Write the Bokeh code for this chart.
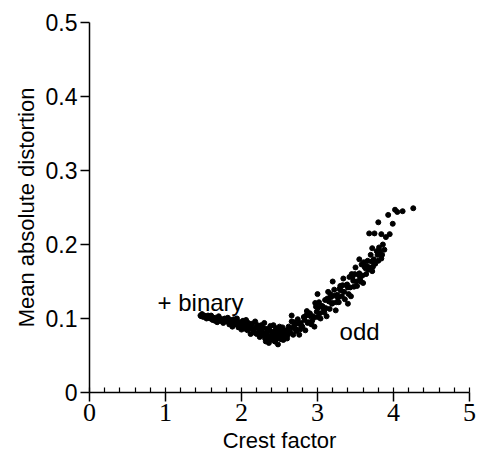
from bokeh.plotting import figure
from bokeh.models import Range1d, FixedTicker, SingleIntervalTicker, Label
from bokeh.embed import file_html
from bokeh.resources import INLINE

# ---- data ----
binary_x = [1.46,1.48,1.50,1.52,1.54,1.56,1.58,1.60,1.62,1.64,1.66,1.68,1.70,1.72,1.74,1.76,1.78,1.80,1.82,1.84,
            1.86,1.88,1.90,1.92,1.94,1.96,1.98,2.00,2.02,2.04,2.06,2.08,2.10,2.12,2.14,2.16,2.18,2.20,2.22,2.24,
            2.26,2.28,2.30,2.32,2.34,2.36,2.38,2.40,2.42,2.44,2.46,2.48,2.50,2.52,2.54,
            1.47,1.51,1.55,1.59,1.63,1.67,1.71,1.75,1.79,1.83,1.87,1.91,1.95,1.99,2.03,2.07,2.11,2.15,2.19,2.23,
            2.27,2.31,2.35,2.39,2.43,2.47,2.51,2.55,
            1.65,1.77,1.89,1.97,2.05,2.09,2.13,2.17,2.21,2.25,2.29,2.33,2.37,2.41,2.45,2.49,2.53,2.57,2.44,2.36]
binary_y = [0.104,0.106,0.102,0.103,0.100,0.104,0.101,0.104,0.098,0.100,0.101,0.095,0.103,0.097,0.099,0.094,0.100,0.097,0.101,0.092,
            0.098,0.089,0.099,0.093,0.100,0.088,0.095,0.085,0.097,0.089,0.098,0.084,0.091,0.079,0.093,0.084,0.096,0.079,0.088,0.075,
            0.091,0.080,0.094,0.074,0.086,0.069,0.090,0.078,0.091,0.069,0.083,0.065,0.085,0.072,0.078,
            0.103,0.104,0.102,0.100,0.101,0.098,0.100,0.096,0.098,0.095,0.096,0.092,0.094,0.090,0.093,0.088,0.090,0.085,0.088,0.082,
            0.086,0.080,0.083,0.076,0.081,0.074,0.079,0.071,
            0.097,0.099,0.094,0.091,0.086,0.094,0.087,0.081,0.091,0.078,0.087,0.078,0.084,0.072,0.087,0.077,0.082,0.075,0.076,0.075]

odd_x = [2.30,2.32,2.34,2.36,2.38,2.40,2.42,2.44,2.46,2.48,2.50,2.52,2.54,2.56,2.58,2.60,2.62,2.64,2.66,2.68,
         2.70,2.72,2.74,2.76,2.78,2.80,2.82,2.84,2.86,2.88,2.90,2.92,2.94,2.96,2.98,3.00,3.02,3.04,3.06,3.08,
         3.10,3.12,3.14,3.16,3.18,3.20,3.22,3.24,3.26,3.28,3.30,3.32,3.34,3.36,3.38,3.40,3.42,3.44,3.46,3.48,
         3.50,3.52,3.54,3.56,3.58,3.60,3.62,3.64,3.66,3.68,3.70,3.72,3.74,3.76,3.78,3.80,3.82,3.84,3.86,3.88,
         2.31,2.35,2.39,2.43,2.47,2.51,2.55,2.59,2.63,2.67,2.71,2.75,2.79,2.83,2.87,2.91,2.95,2.99,3.03,3.07,
         3.11,3.15,3.19,3.23,3.27,3.31,3.35,3.39,3.43,3.47,3.51,3.55,3.59,3.63,3.67,3.71,3.75,3.79,
         2.53,2.61,2.69,2.77,2.85,2.93,3.01,3.09,3.17,3.25,3.33,3.41,3.49,3.57,3.65,3.73,3.81,2.97,3.13,3.29,
         3.45,3.61,
         2.50,2.66,3.00,3.20,3.40,3.55,3.72,3.85,3.90,3.68,3.75,3.84,3.95,3.80,3.99,3.93,4.05,4.12,4.02,4.26]
odd_y = [0.077,0.069,0.073,0.067,0.076,0.073,0.082,0.069,0.078,0.076,0.083,0.075,0.088,0.074,0.083,0.073,0.089,0.082,0.096,0.078,
         0.092,0.083,0.099,0.078,0.094,0.089,0.102,0.084,0.110,0.095,0.107,0.092,0.103,0.089,0.116,0.102,0.122,0.100,0.117,0.112,
         0.125,0.103,0.136,0.113,0.129,0.121,0.139,0.111,0.132,0.122,0.144,0.130,0.154,0.126,0.145,0.142,0.156,0.130,0.156,0.143,
         0.169,0.144,0.159,0.154,0.173,0.148,0.170,0.160,0.178,0.169,0.186,0.164,0.180,0.174,0.191,0.178,0.191,0.181,0.200,0.193,
         0.073,0.071,0.072,0.076,0.073,0.079,0.078,0.084,0.081,0.088,0.086,0.093,0.090,0.098,0.094,0.103,0.101,0.109,0.107,0.116,
         0.114,0.123,0.120,0.131,0.128,0.138,0.136,0.146,0.142,0.151,0.150,0.161,0.158,0.168,0.166,0.177,0.175,0.186,
         0.085,0.078,0.095,0.085,0.104,0.097,0.115,0.108,0.133,0.122,0.145,0.133,0.160,0.150,0.171,0.170,0.196,0.121,0.127,0.140,
         0.160,0.176,
         0.089,0.104,0.133,0.150,0.120,0.180,0.195,0.186,0.210,0.215,0.215,0.214,0.214,0.230,0.228,0.240,0.244,0.245,0.247,0.249]

x_ticks = [0, 1, 2, 3, 4, 5]
y_ticks = [0, 0.1, 0.2, 0.3, 0.4, 0.5]

SERIF = "serif"
SANS = "Liberation Sans"

p = figure(width=481, height=458, output_backend="svg", toolbar_location=None,
           x_range=Range1d(0, 5), y_range=Range1d(0, 0.5),
           min_border_left=89, min_border_right=12, min_border_top=22, min_border_bottom=66)
p.outline_line_color = None
p.xgrid.grid_line_color = None
p.ygrid.grid_line_color = None
p.background_fill_color = "white"
p.border_fill_color = "white"

p.scatter(binary_x, binary_y, size=5, color="black")
p.scatter(odd_x, odd_y, size=5, color="black")

p.add_layout(Label(x=0.895, y=0.122, text="+ binary", text_font=SANS,
                   text_font_size="24px", text_color="black", text_baseline="alphabetic"))
p.add_layout(Label(x=3.29, y=0.082, text="odd", text_font=SANS,
                   text_font_size="24px", text_color="black", text_baseline="alphabetic"))

xa = p.xaxis[0]
xa.ticker = SingleIntervalTicker(interval=1, num_minor_ticks=5)
xa.axis_label = "Crest factor"
xa.axis_label_text_font = SANS
xa.axis_label_text_font_size = "22px"
xa.axis_label_text_font_style = "normal"
xa.axis_label_standoff = 4
xa.major_label_text_font = SERIF
xa.major_label_text_font_size = "26px"
xa.major_label_standoff = 2
xa.major_tick_out = 9
xa.major_tick_in = 0
xa.minor_tick_in = 5
xa.minor_tick_out = 0
for a in (xa, p.yaxis[0]):
    a.axis_line_width = 1.5
    a.major_tick_line_width = 1.5
    a.minor_tick_line_width = 1.2
    a.axis_line_color = "black"
    a.major_tick_line_color = "black"
    a.major_label_text_color = "black"
    a.axis_label_text_color = "black"

ya = p.yaxis[0]
ya.ticker = FixedTicker(ticks=y_ticks)
ya.major_label_overrides = {0: "0"}
ya.axis_label = "Mean absolute distortion"
ya.axis_label_text_font = SANS
ya.axis_label_text_font_size = "22px"
ya.axis_label_text_font_style = "normal"
ya.axis_label_standoff = 4
ya.major_label_text_font = SANS
ya.major_label_text_font_size = "23px"
ya.major_label_standoff = 3
ya.major_tick_out = 9
ya.major_tick_in = 0
ya.minor_tick_line_color = None

open("out.html", "w").write(file_html(p, INLINE))
